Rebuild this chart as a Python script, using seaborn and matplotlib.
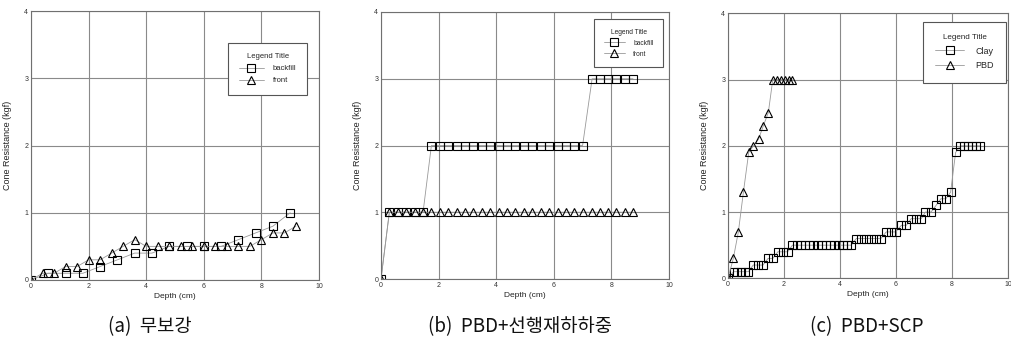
import numpy as np
import pandas as pd
import matplotlib
matplotlib.use("Agg")
import matplotlib.pyplot as plt
import seaborn as sns

# ---------------- data ----------------
# (a) 무보강
a_backfill_x = [0, 0.6, 1.2, 1.8, 2.4, 3.0, 3.6, 4.2, 4.8, 5.4, 6.0, 6.6, 7.2, 7.8, 8.4, 9.0]
a_backfill_y = [0, 0.1, 0.1, 0.1, 0.2, 0.3, 0.4, 0.4, 0.5, 0.5, 0.5, 0.5, 0.6, 0.7, 0.8, 1.0]
a_front_x = [0, 0.4, 0.8, 1.2, 1.6, 2.0, 2.4, 2.8, 3.2, 3.6, 4.0, 4.4, 4.8, 5.2, 5.6, 6.0,
             6.4, 6.8, 7.2, 7.6, 8.0, 8.4, 8.8, 9.2]
a_front_y = [0, 0.1, 0.1, 0.2, 0.2, 0.3, 0.3, 0.4, 0.5, 0.6, 0.5, 0.5, 0.5, 0.5, 0.5, 0.5,
             0.5, 0.5, 0.5, 0.5, 0.6, 0.7, 0.7, 0.8]

# (b) PBD+선행재하하중
b_x = [0, 0.29, 0.58, 0.88, 1.17, 1.46, 1.75, 2.04, 2.33, 2.63, 2.92, 3.21, 3.5, 3.79,
       4.08, 4.38, 4.67, 4.96, 5.25, 5.54, 5.83, 6.13, 6.42, 6.71, 7.0, 7.33, 7.6,
       7.88, 8.17, 8.46, 8.75]
b_backfill_y = [0, 1, 1, 1, 1, 1, 2, 2, 2, 2, 2, 2, 2, 2, 2, 2, 2, 2, 2, 2, 2, 2, 2, 2, 2,
                3, 3, 3, 3, 3, 3]
b_front_y = [0] + [1] * 30

# (c) PBD+SCP
c_clay_x = [0, 0.2, 0.33, 0.46, 0.6, 0.73, 0.9, 1.07, 1.25, 1.43, 1.6, 1.78, 1.95, 2.13,
            2.3, 2.45, 2.6, 2.75, 2.9, 3.05, 3.2, 3.35, 3.5, 3.65, 3.8, 3.95, 4.1, 4.25, 4.4,
            4.58, 4.76, 4.93, 5.11, 5.28, 5.46, 5.65, 5.82, 5.99, 6.19, 6.37, 6.54, 6.72, 6.9,
            7.05, 7.25, 7.43, 7.6, 7.78, 7.95, 8.13, 8.3, 8.44, 8.58, 8.72, 8.86, 9.0]
c_clay_y = [0, 0.1, 0.1, 0.1, 0.1, 0.1, 0.2, 0.2, 0.2, 0.3, 0.3, 0.4, 0.4, 0.4,
            0.5, 0.5, 0.5, 0.5, 0.5, 0.5, 0.5, 0.5, 0.5, 0.5, 0.5, 0.5, 0.5, 0.5, 0.5,
            0.6, 0.6, 0.6, 0.6, 0.6, 0.6, 0.7, 0.7, 0.7, 0.8, 0.8, 0.9, 0.9, 0.9,
            1.0, 1.0, 1.1, 1.2, 1.2, 1.3, 1.9, 2.0, 2.0, 2.0, 2.0, 2.0, 2.0]
c_pbd_x = [0, 0.19, 0.37, 0.55, 0.74, 0.91, 1.09, 1.26, 1.44, 1.6, 1.75, 1.9, 2.03, 2.17, 2.3]
c_pbd_y = [0, 0.3, 0.7, 1.3, 1.9, 2.0, 2.1, 2.3, 2.5, 3, 3, 3, 3, 3, 3]

x_ticks = [0, 2, 4, 6, 8, 10]
y_ticks = [0, 1, 2, 3, 4]
captions = ["(a)  무보강", "(b)  PBD+선행재하하중", "(c)  PBD+SCP"]
legend_title = "Legend Title"

# ---------------- style ----------------
sns.set_theme(style="white")
plt.rcParams["font.family"] = ["Liberation Sans", "Noto Sans CJK KR", "DejaVu Sans"]

fig = plt.figure(figsize=(10.11, 3.45), dpi=100)
axes_rects = [
    [31 / 1011, 65 / 345, 288 / 1011, 269 / 345],
    [381 / 1011, 66 / 345, 288 / 1011, 267 / 345],
    [728 / 1011, 66.7 / 345, 280 / 1011, 265 / 345],
]
axs = [fig.add_axes(r) for r in axes_rects]

grid_c = "#8a8a8a"
line_c = "#999999"


def draw(ax, x, y, marker, label, ms):
    sns.lineplot(x=x, y=y, ax=ax, sort=False, estimator=None, color=line_c, lw=0.6,
                 marker=marker, markersize=ms, markerfacecolor="none",
                 markeredgecolor="black", markeredgewidth=0.8, label=label)


draw(axs[0], a_backfill_x, a_backfill_y, "s", "backfill", 6)
draw(axs[0], a_front_x, a_front_y, "^", "front", 5.5)
draw(axs[1], b_x, b_backfill_y, "s", "backfill", 6)
draw(axs[1], b_x, b_front_y, "^", "front", 5.5)
draw(axs[2], c_clay_x, c_clay_y, "s", "Clay", 5.2)
draw(axs[2], c_pbd_x, c_pbd_y, "^", "PBD", 5.2)

legend_cfg = [
    dict(anchor=(0.972, 0.896), fs=5.5, tfs=5.5),
    dict(anchor=(0.99, 0.985), fs=4.8, tfs=4.8),
    dict(anchor=(1.01, 0.986), fs=6.5, tfs=5.8),
]

for ax, cfg in zip(axs, legend_cfg):
    ax.set_xlim(0, 10)
    ax.set_ylim(0, 4)
    ax.set_xticks(x_ticks)
    ax.set_yticks(y_ticks)
    ax.grid(True, color=grid_c, lw=0.8)
    ax.set_axisbelow(True)
    for s in ax.spines.values():
        s.set_color("#707070")
        s.set_linewidth(0.8)
    ax.tick_params(axis="both", length=0, labelsize=5, colors="#333333", pad=2)
    ax.set_xlabel("Depth (cm)", fontsize=6, labelpad=2, color="#222222")
    ax.set_ylabel("Cone Resistance (kgf)", fontsize=6.5, labelpad=9, color="#222222")
    leg = ax.legend(title=legend_title, loc="upper right", bbox_to_anchor=cfg["anchor"],
                    fontsize=cfg["fs"], title_fontsize=cfg["tfs"], frameon=True,
                    fancybox=False, edgecolor="#555555", framealpha=1,
                    borderpad=1.4, handlelength=3.2, labelspacing=0.6, handletextpad=1.2)
    leg.get_frame().set_linewidth(0.8)

cap_x = [150 / 1011, 520 / 1011, 867 / 1011]
for cx, txt in zip(cap_x, captions):
    fig.text(cx, 18 / 345, txt, ha="center", va="center", fontsize=13.5,
             family=["Noto Sans CJK KR", "DejaVu Sans"], color="#111111")

fig.savefig("out.png", dpi=100)
